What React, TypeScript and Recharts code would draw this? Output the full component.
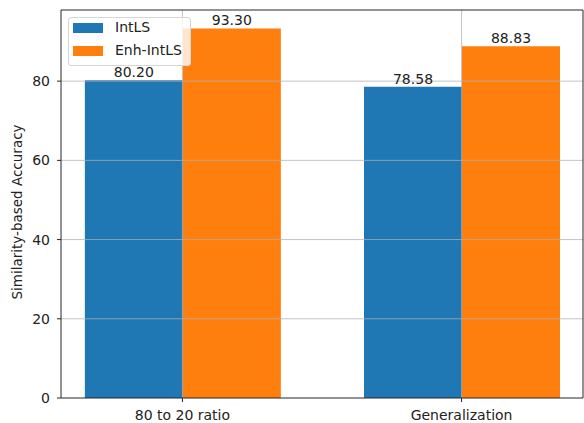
import React from 'react';
import { BarChart, Bar, XAxis, YAxis, ReferenceLine, LabelList } from 'recharts';

const categories = ['80 to 20 ratio', 'Generalization'];
const intLS = [80.2, 78.58];
const enhIntLS = [93.3, 88.83];
const yTicks = [0, 20, 40, 60, 80];
const xTicks = [0, 1];
const Y_MAX = 97.965;
const X_DOMAIN: [number, number] = [-0.435, 1.435];

const seriesNames = ['IntLS', 'Enh-IntLS'];
const colors = ['#1f77b4', '#ff7f0e'];

const data = categories.map((c, i) => ({ idx: i, name: c, intLS: intLS[i], enh: enhIntLS[i] }));

const FONT = '"DejaVu Sans", sans-serif';
const GRID = '#b0b0b0';
const AX = '#262626';

const LegendBox = () => (
  <div
    style={{
      position: 'absolute',
      left: 68,
      top: 17,
      width: 121,
      height: 47,
      border: '1px solid #d6d6d6',
      borderRadius: 3,
      background: 'rgba(255,255,255,0.8)',
      fontFamily: FONT,
      fontSize: 14,
      color: '#222',
    }}
  >
    {seriesNames.map((n, i) => (
      <React.Fragment key={n}>
        <div
          style={{
            position: 'absolute',
            left: 4,
            top: 5 + i * 23,
            width: 30,
            height: 10,
            background: colors[i],
          }}
        />
        <div style={{ position: 'absolute', left: 46, top: 1 + i * 23, lineHeight: '17px', whiteSpace: 'nowrap' }}>{n}</div>
      </React.Fragment>
    ))}
  </div>
);

const YLabel = (props: any) => {
  const cx = 21.5;
  const cy = 212;
  return (
    <text
      x={cx}
      y={cy}
      transform={`rotate(-90, ${cx}, ${cy})`}
      textAnchor="middle"
      fontFamily={FONT}
      fontSize={13.5}
      fill="#222"
    >
      Similarity-based Accuracy
    </text>
  );
};

export default function App() {
  return (
    <div style={{ position: 'absolute', left: 0, top: 0, width: 584, height: 423, background: '#fff', fontFamily: FONT }}>
      <BarChart
        width={584}
        height={423}
        data={data}
        margin={{ top: 10, right: 1, bottom: 0, left: 0 }}
        barGap={0}
      >
        <XAxis
          dataKey="idx"
          type="number"
          domain={X_DOMAIN}
          allowDataOverflow
          ticks={xTicks}
          tickFormatter={(v: number) => categories[v]}
          height={25}
          tickSize={4}
          tickMargin={8}
          tick={{ fill: '#222', fontSize: 14, fontFamily: FONT }}
          axisLine={{ stroke: AX, strokeWidth: 1 }}
          tickLine={{ stroke: AX }}
          interval={0}
        />
        <YAxis
          type="number"
          domain={[0, Y_MAX]}
          allowDataOverflow
          ticks={yTicks}
          width={61}
          tickSize={4}
          tickMargin={7}
          tick={{ fill: '#222', fontSize: 14, fontFamily: FONT }}
          axisLine={{ stroke: AX, strokeWidth: 1 }}
          tickLine={{ stroke: AX }}
          label={<YLabel />}
        />
        <Bar dataKey="intLS" name={seriesNames[0]} fill={colors[0]} barSize={98} isAnimationActive={false}>
          <LabelList
            dataKey="intLS"
            position="top"
            offset={3}
            formatter={(v: any) => Number(v).toFixed(2)}
            style={{ fill: '#222', fontSize: 14, fontFamily: FONT }}
          />
        </Bar>
        <Bar dataKey="enh" name={seriesNames[1]} fill={colors[1]} barSize={98} isAnimationActive={false}>
          <LabelList
            dataKey="enh"
            position="top"
            offset={3}
            formatter={(v: any) => Number(v).toFixed(2)}
            style={{ fill: '#222', fontSize: 14, fontFamily: FONT }}
          />
        </Bar>
        {yTicks.slice(1).map((t) => (
          <ReferenceLine key={'y' + t} y={t} stroke={GRID} strokeOpacity={0.75} strokeWidth={1} zIndex={450} />
        ))}
        {xTicks.map((t) => (
          <ReferenceLine key={'x' + t} x={t} stroke={GRID} strokeOpacity={0.75} strokeWidth={1} zIndex={450} />
        ))}
        <ReferenceLine y={Y_MAX} stroke={AX} strokeWidth={1} zIndex={460} />
        <ReferenceLine x={X_DOMAIN[1]} stroke={AX} strokeWidth={1} zIndex={460} />
      </BarChart>
      <LegendBox />
    </div>
  );
}
